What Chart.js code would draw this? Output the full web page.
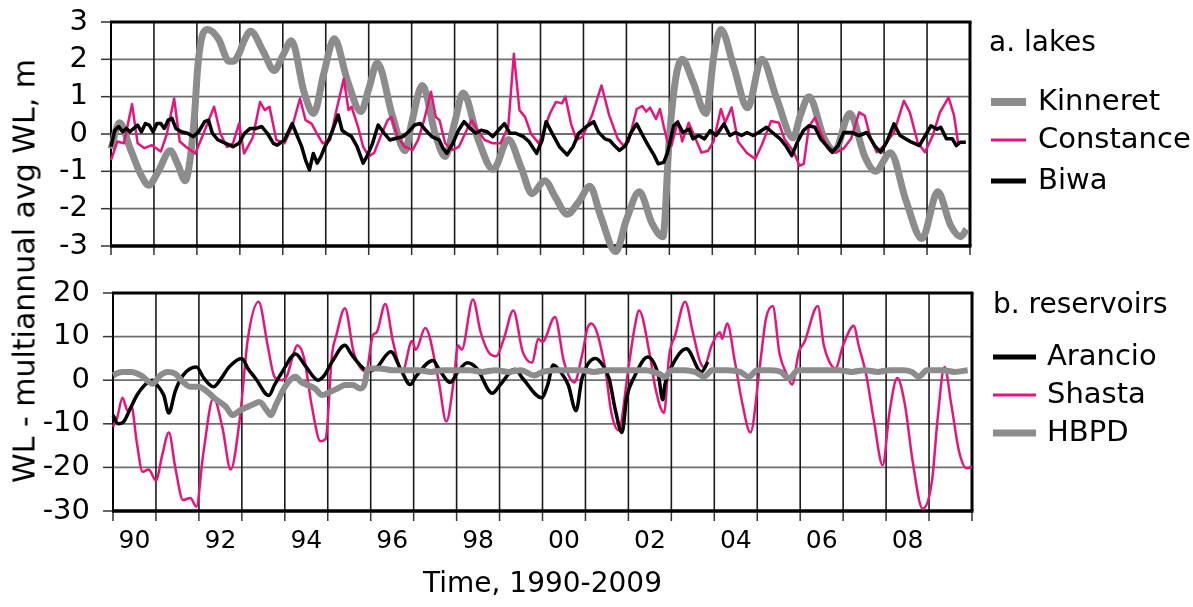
<!DOCTYPE html>
<html>
  <head>
    <title>Water level anomalies: lakes and reservoirs</title>
    <script src="https://cdn.jsdelivr.net/npm/chart.js"></script>
    <style>
      body { margin: 0; background: #fff; }
      #wrap { position: relative; width: 1193px; height: 607px; overflow: hidden; }
      canvas { position: absolute; left: 0; }
      #lakesChart { top: -20px; }
      #resChart { top: 251px; }
      #yTitle {
        position: absolute; left: 24px; top: 271px;
        transform: translate(-50%, -50%) rotate(-90deg);
        white-space: nowrap; font-family: "DejaVu Sans"; font-size: 30px; color: #000;
      }
    </style>
  </head>

  <body>
    <div id="wrap">
      <canvas id="lakesChart" width="1193" height="308"></canvas>
      <canvas id="resChart" width="1193" height="356"></canvas>
      <div id="yTitle">WL - multiannual avg WL, m</div>
    </div>

    <script>
      // ---- data (year, metres from the multiannual mean) ----
      var tickYears = [1990, 1992, 1994, 1996, 1998, 2000, 2002, 2004, 2006, 2008];
      var tickLabels = ["90", "92", "94", "96", "98", "00", "02", "04", "06", "08"];
      var xTitle = "Time, 1990-2009";

      // a. lakes
      var kinneretT = [1990.0, 1990.2, 1990.45, 1990.7, 1990.88, 1991.1, 1991.38, 1991.55, 1991.73, 1991.85, 1991.95, 1992.02, 1992.13, 1992.25, 1992.5, 1992.75, 1992.85, 1992.98, 1993.1, 1993.25, 1993.55, 1993.8, 1994.0, 1994.2, 1994.5, 1994.72, 1994.95, 1995.2, 1995.5, 1995.82, 1996.0, 1996.2, 1996.55, 1996.85, 1997.0, 1997.25, 1997.55, 1997.78, 1998.0, 1998.2, 1998.55, 1998.9, 1999.25, 1999.55, 1999.8, 2000.1, 2000.35, 2000.62, 2000.9, 2001.15, 2001.4, 2001.75, 2002.0, 2002.3, 2002.6, 2002.85, 2003.0, 2003.15, 2003.3, 2003.55, 2003.85, 2004.05, 2004.2, 2004.5, 2004.82, 2005.15, 2005.5, 2005.88, 2006.05, 2006.25, 2006.6, 2006.85, 2007.2, 2007.55, 2007.8, 2008.15, 2008.5, 2008.88, 2009.25, 2009.55, 2009.78, 2009.92];
      var kinneretV = [-0.4, 0.3, -0.4, -1.1, -1.37, -1.0, -0.45, -0.8, -1.25, -0.6, 0.6, 1.8, 2.65, 2.8, 2.55, 1.95, 1.95, 2.15, 2.5, 2.75, 2.2, 1.7, 2.1, 2.5, 1.1, 0.55, 1.6, 2.55, 1.45, 0.6, 1.2, 1.9, 0.5, -0.45, 0.3, 1.3, 0.0, -0.6, 0.3, 1.1, -0.15, -0.95, -0.15, -0.9, -1.6, -1.25, -1.7, -2.15, -1.8, -1.4, -2.2, -3.15, -2.3, -1.55, -2.4, -2.75, -0.1, 1.5, 2.0, 1.4, 0.55, 2.2, 2.8, 1.8, 0.7, 2.0, 0.95, -0.1, 0.5, 1.0, -0.1, -0.45, 0.55, -0.6, -1.0, -0.5, -1.75, -2.8, -1.55, -2.45, -2.75, -2.55];

      var constanceT = [1990.0, 1990.15, 1990.3, 1990.49, 1990.62, 1990.78, 1990.95, 1991.16, 1991.3, 1991.47, 1991.6, 1991.75, 1991.96, 1992.15, 1992.4, 1992.55, 1992.7, 1992.84, 1992.98, 1993.1, 1993.3, 1993.47, 1993.58, 1993.69, 1993.85, 1994.04, 1994.22, 1994.4, 1994.53, 1994.67, 1994.8, 1994.93, 1995.1, 1995.25, 1995.42, 1995.53, 1995.6, 1995.75, 1995.87, 1996.0, 1996.13, 1996.3, 1996.44, 1996.53, 1996.67, 1996.84, 1997.02, 1997.15, 1997.29, 1997.45, 1997.56, 1997.65, 1997.78, 1997.96, 1998.1, 1998.28, 1998.4, 1998.53, 1998.7, 1998.89, 1999.07, 1999.25, 1999.38, 1999.51, 1999.64, 1999.78, 1999.96, 2000.05, 2000.22, 2000.36, 2000.5, 2000.58, 2000.71, 2000.84, 2000.98, 2001.2, 2001.42, 2001.6, 2001.8, 2001.93, 2002.05, 2002.24, 2002.37, 2002.46, 2002.55, 2002.69, 2002.78, 2002.87, 2002.96, 2003.05, 2003.2, 2003.3, 2003.45, 2003.6, 2003.75, 2003.9, 2004.03, 2004.2, 2004.3, 2004.45, 2004.6, 2004.8, 2005.0, 2005.15, 2005.37, 2005.55, 2005.68, 2005.9, 2006.03, 2006.13, 2006.25, 2006.39, 2006.52, 2006.66, 2006.88, 2007.05, 2007.23, 2007.42, 2007.55, 2007.69, 2007.83, 2008.0, 2008.23, 2008.46, 2008.6, 2008.78, 2008.95, 2009.13, 2009.3, 2009.5, 2009.63, 2009.72, 2009.9];
      var constanceV = [-0.7, -0.2, -0.25, 0.8, -0.25, -0.38, -0.3, -0.47, 0.0, 0.95, -0.2, -0.35, -0.52, 0.0, 0.73, 0.0, -0.35, -0.25, 0.28, -0.52, -0.1, 0.86, 0.64, 0.73, -0.16, -0.25, 0.2, 0.95, 0.37, 0.28, 0.0, -0.25, -0.16, 0.64, 1.48, 0.64, 0.73, 0.2, -0.34, -0.6, -0.5, 0.0, 0.37, 0.46, -0.07, -0.34, -0.43, -0.16, 0.37, 1.13, 0.46, 0.37, -0.25, -0.43, -0.34, 0.1, 0.37, 0.1, -0.16, -0.25, -0.25, 0.2, 2.15, 0.64, 0.46, 0.0, -0.25, 0.0, 0.55, 0.86, 0.82, 1.0, 0.28, -0.16, -0.07, 0.5, 1.3, 0.5, -0.13, -0.31, -0.2, 0.67, 0.75, 0.6, 0.71, 0.4, 0.67, 0.2, -0.22, -0.31, 0.35, -0.2, 0.3, -0.1, -0.5, -0.45, -0.2, 0.67, 0.3, 0.71, -0.2, -0.5, -0.67, -0.3, 0.35, 0.3, -0.13, -0.49, -0.85, -0.8, 0.2, 0.44, 0.05, -0.31, -0.49, -0.4, -0.13, 0.58, 0.49, -0.13, -0.49, -0.31, 0.04, 0.89, 0.58, -0.22, -0.49, -0.05, 0.58, 0.98, 0.49, -0.22, -0.22];

      var biwaT = [1990.0, 1990.09, 1990.18, 1990.27, 1990.36, 1990.44, 1990.53, 1990.62, 1990.71, 1990.8, 1990.89, 1990.98, 1991.07, 1991.16, 1991.24, 1991.33, 1991.42, 1991.51, 1991.64, 1991.78, 1991.91, 1992.04, 1992.18, 1992.27, 1992.36, 1992.49, 1992.67, 1992.84, 1992.98, 1993.11, 1993.24, 1993.38, 1993.51, 1993.64, 1993.78, 1993.87, 1994.04, 1994.22, 1994.31, 1994.44, 1994.53, 1994.62, 1994.71, 1994.8, 1994.89, 1994.98, 1995.07, 1995.16, 1995.29, 1995.38, 1995.47, 1995.6, 1995.73, 1995.87, 1995.96, 1996.09, 1996.22, 1996.36, 1996.49, 1996.62, 1996.8, 1996.93, 1997.07, 1997.2, 1997.33, 1997.47, 1997.64, 1997.73, 1997.82, 1997.96, 1998.09, 1998.22, 1998.36, 1998.49, 1998.62, 1998.76, 1998.89, 1999.02, 1999.16, 1999.29, 1999.42, 1999.6, 1999.73, 1999.91, 2000.04, 2000.13, 2000.27, 2000.44, 2000.62, 2000.76, 2000.89, 2001.07, 2001.24, 2001.35, 2001.5, 2001.62, 2001.72, 2001.84, 2001.98, 2002.11, 2002.24, 2002.38, 2002.51, 2002.65, 2002.74, 2002.87, 2002.96, 2003.1, 2003.19, 2003.32, 2003.46, 2003.55, 2003.68, 2003.82, 2003.95, 2004.09, 2004.27, 2004.41, 2004.54, 2004.68, 2004.81, 2004.95, 2005.08, 2005.26, 2005.4, 2005.58, 2005.71, 2005.85, 2005.98, 2006.12, 2006.25, 2006.39, 2006.52, 2006.66, 2006.79, 2006.93, 2007.06, 2007.24, 2007.42, 2007.6, 2007.78, 2007.92, 2008.06, 2008.23, 2008.37, 2008.5, 2008.64, 2008.82, 2008.96, 2009.09, 2009.23, 2009.32, 2009.45, 2009.59, 2009.68, 2009.77, 2009.9];
      var biwaV = [-0.34, 0.1, 0.2, 0.06, 0.15, 0.06, 0.15, 0.24, 0.06, 0.28, 0.24, 0.06, 0.28, 0.28, 0.15, 0.37, 0.42, 0.15, 0.06, 0.02, -0.07, 0.06, 0.33, 0.37, 0.02, -0.16, -0.25, -0.34, -0.25, 0.02, 0.15, 0.15, 0.2, 0.02, -0.25, -0.3, -0.16, 0.28, 0.02, -0.34, -0.7, -0.96, -0.52, -0.78, -0.6, -0.34, -0.16, 0.1, 0.51, 0.1, 0.02, -0.07, -0.34, -0.78, -0.6, -0.25, 0.24, 0.02, -0.16, -0.12, -0.07, 0.06, 0.24, 0.28, 0.1, -0.07, -0.16, -0.38, -0.52, -0.25, 0.1, 0.33, 0.15, 0.02, 0.1, 0.06, -0.07, 0.1, 0.28, 0.02, 0.02, -0.07, -0.2, -0.52, -0.16, 0.33, 0.02, -0.34, -0.56, -0.34, 0.02, 0.2, 0.33, 0.05, -0.13, -0.18, -0.31, -0.44, -0.31, 0.04, 0.27, -0.04, -0.31, -0.58, -0.8, -0.76, -0.49, 0.22, 0.31, 0.04, 0.13, -0.13, -0.04, -0.13, 0.09, -0.04, 0.27, -0.04, 0.04, -0.04, 0.04, -0.04, 0.04, 0.18, 0.04, -0.13, -0.31, -0.58, -0.22, 0.09, 0.22, 0.18, -0.13, -0.31, -0.49, -0.31, 0.04, 0.04, -0.04, 0.04, -0.31, -0.49, -0.22, 0.27, -0.04, -0.13, -0.22, -0.31, -0.04, 0.22, 0.13, 0.18, -0.13, -0.13, -0.31, -0.22, -0.22];

      // b. reservoirs
      var arancioT = [1990.0, 1990.12, 1990.25, 1990.38, 1990.56, 1990.74, 1990.92, 1991.0, 1991.18, 1991.3, 1991.45, 1991.63, 1991.94, 1992.12, 1992.34, 1992.52, 1992.7, 1993.0, 1993.14, 1993.32, 1993.63, 1993.76, 1993.94, 1994.25, 1994.47, 1994.78, 1994.92, 1995.1, 1995.4, 1995.54, 1995.76, 1995.94, 1996.12, 1996.47, 1996.69, 1996.92, 1997.05, 1997.45, 1997.58, 1997.85, 1998.03, 1998.25, 1998.47, 1998.83, 1999.01, 1999.36, 1999.54, 1999.98, 2000.12, 2000.25, 2000.42, 2000.6, 2000.78, 2000.92, 2001.23, 2001.4, 2001.55, 2001.7, 2001.85, 2001.96, 2002.14, 2002.45, 2002.7, 2002.8, 2002.85, 2003.0, 2003.35, 2003.7, 2003.85];
      var arancioV = [-8, -10, -9.5, -7, -3.4, -1.1, 0, -0.8, -3.4, -7.5, -2.5, 1.1, 3, 0.4, -1.5, 0.4, 3, 5, 2.7, 0.4, -3.5, -1.1, 1.9, 6, 3.4, 0, 1.1, 4.2, 8, 6.1, 3.4, 2, 2.7, 6.5, 2.7, -1, 0.8, 4.5, 2.7, -0.5, 1.9, 4, 2.7, -3, -1.1, 2.5, 0.4, -4, -1.1, 3.5, 1.9, -1.1, -7, 0.4, 5, 3.5, 0.4, -7, -12, -4, 0.8, 5.3, 1, -4.5, -1, 3, 7.2, 1.9, 4.2];

      var shastaT = [1990.0, 1990.1, 1990.22, 1990.34, 1990.43, 1990.55, 1990.69, 1990.83, 1991.0, 1991.15, 1991.3, 1991.45, 1991.63, 1991.8, 1991.94, 1992.1, 1992.34, 1992.55, 1992.74, 1992.95, 1993.14, 1993.39, 1993.6, 1993.75, 1993.9, 1994.05, 1994.2, 1994.29, 1994.45, 1994.63, 1994.83, 1994.95, 1995.1, 1995.2, 1995.4, 1995.6, 1995.75, 1995.89, 1996.05, 1996.14, 1996.34, 1996.52, 1996.74, 1996.96, 1997.05, 1997.27, 1997.58, 1997.76, 1997.94, 1998.03, 1998.12, 1998.38, 1998.56, 1998.74, 1998.92, 1999.1, 1999.32, 1999.54, 1999.76, 1999.9, 2000.0, 2000.29, 2000.5, 2000.74, 2000.92, 2001.05, 2001.14, 2001.46, 2001.6, 2001.77, 2002.0, 2002.14, 2002.25, 2002.5, 2002.63, 2002.83, 2002.95, 2003.09, 2003.32, 2003.5, 2003.67, 2003.76, 2003.94, 2004.13, 2004.18, 2004.3, 2004.48, 2004.66, 2004.84, 2005.07, 2005.2, 2005.36, 2005.52, 2005.7, 2005.81, 2005.97, 2006.1, 2006.41, 2006.55, 2006.68, 2006.82, 2007.0, 2007.25, 2007.36, 2007.54, 2007.72, 2007.92, 2008.08, 2008.26, 2008.44, 2008.62, 2008.85, 2009.07, 2009.2, 2009.36, 2009.52, 2009.7, 2009.88, 2010.0];
      var shastaV = [-10.7, -8.5, -4, -7, -6, -14, -21, -20.5, -23, -17, -12, -20, -27.5, -27, -29, -17, -4, -11, -20.5, -9, 9.5, 18, 8, 1, 0, 1, 6, 8, 5, -6, -14, -13.5, 6, 10.3, 16.5, 6.5, 3, 2, 10.3, 11, 17.5, 8.8, 2, 9, 7, 12, 0, -9.5, 0.4, 8, 7, 18.5, 11, 6.5, 5.5, 9.5, 16, 6.5, 4, 9.5, 8.8, 14.5, 4.2, -0.5, 5.7, 12, 13, 2.7, -7.3, -11.5, 2.7, 11.8, 16, 5.7, -1.9, -7.5, 5.7, 10.3, 18, 11, 4.2, 3, 8, 11, 9.5, 13, 4.2, -5.7, -12, 4, 14, 17, 6, 1.1, -1, 6.5, 8.8, 17, 8, 4.2, 2.7, 8, 12.5, 8, 1.1, -9.5, -19.5, -7.3, 0.5, -5.7, -18.7, -29.5, -23, -8.8, 3, -5.7, -16.4, -20.2, -19.8];

      var hbpdT = [1990.0, 1990.2, 1990.43, 1990.65, 1990.92, 1991.1, 1991.27, 1991.45, 1991.63, 1991.8, 1992.0, 1992.2, 1992.37, 1992.63, 1992.78, 1992.96, 1993.23, 1993.41, 1993.58, 1993.67, 1993.8, 1993.98, 1994.12, 1994.25, 1994.38, 1994.52, 1994.7, 1994.87, 1995.05, 1995.23, 1995.4, 1995.58, 1995.76, 1995.85, 1995.94, 1996.2, 1996.5, 1996.8, 1997.1, 1997.4, 1997.7, 1998.0, 1998.3, 1998.6, 1998.9, 1999.2, 1999.5, 1999.8, 2000.0, 2000.3, 2000.6, 2000.9, 2001.2, 2001.5, 2001.8, 2002.1, 2002.4, 2002.7, 2002.86, 2003.0, 2003.3, 2003.55, 2003.76, 2003.95, 2004.3, 2004.6, 2004.8, 2005.0, 2005.3, 2005.55, 2005.74, 2005.95, 2006.3, 2006.6, 2006.9, 2007.2, 2007.5, 2007.8, 2008.1, 2008.4, 2008.6, 2008.76, 2008.95, 2009.3, 2009.6, 2009.9];
      var hbpdV = [1.1, 1.9, 1.9, 1.1, -0.8, 1.1, 1.9, 1.5, -0.4, -1.5, -1.5, -2.7, -4.2, -6.1, -8, -6.9, -5.7, -5, -6.9, -8, -5.5, -1.9, 0, 0.8, -0.4, -1.1, -1.9, -3.4, -2.7, -1.9, -1.1, -1.1, -1.9, -1.1, 2.7, 2.7, 2.3, 2.3, 2.3, 1.9, 2.3, 2.3, 2.3, 1.9, 2.3, 1.9, 2.3, 1.1, 1.9, 2.3, 2.3, 2.3, 1.9, 2.3, 2.3, 2.3, 2.3, 1.5, 0.8, 2.3, 2.3, 1.9, 0.8, 2.3, 2.3, 1.9, 0.8, 2.3, 2.3, 1.9, 0.4, 2.3, 2.3, 2.3, 2.3, 1.9, 2.3, 1.9, 2.3, 2.3, 1.9, 0.8, 2.3, 2.3, 1.9, 2.3];

      var GREY = "#8c8c8c";
      var PINK = "#e6157d";
      var BLACK = "#000000";

      Chart.defaults.font.family = '"DejaVu Sans", Verdana, sans-serif';
      Chart.defaults.color = "#000";

      function pts(t, v) {
        return t.map(function (x, i) { return { x: x, y: v[i] }; });
      }

      // year grid, value grid, tick stubs and the heavy frame, all placed from the chart's scales
      var panelGrid = {
        id: "panelGrid",
        beforeDatasetsDraw: function (chart, args, o) {
          var ctx = chart.ctx;
          var a = chart.chartArea;
          var xs = chart.scales.x;
          var ys = chart.scales.y;
          function seg(x1, y1, x2, y2, color, w) {
            ctx.strokeStyle = color;
            ctx.lineWidth = w;
            ctx.beginPath();
            ctx.moveTo(x1, y1);
            ctx.lineTo(x2, y2);
            ctx.stroke();
          }
          ctx.save();
          ys.ticks.forEach(function (t) {
            var y = ys.getPixelForValue(t.value);
            seg(a.left, y, a.right, y, "#6e6e6e", 1.8);
            seg(a.left - 10, y, a.left, y, "#333", 1.5);
          });
          xs.ticks.forEach(function (t) {
            var x = xs.getPixelForValue(t.value);
            seg(x, a.top, x, a.bottom, "#1a1a1a", 1.6);
            seg(x, a.bottom, x, a.bottom + o.tickLen, "#333", 1.5);
          });
          seg(a.left - 1, a.top, a.right + 1.5, a.top, "#000", 3);
          seg(a.right, a.top, a.right, a.bottom, "#000", 3);
          seg(a.left, a.top, a.left, a.bottom, "#000", 2);
          seg(a.left - 1, a.bottom, a.right + 1.5, a.bottom, "#000", 3.5);
          ctx.restore();
        },
      };

      // legend at the right of each panel: title, then a line sample and name per dataset
      var panelLegend = {
        id: "panelLegend",
        afterDraw: function (chart, args, o) {
          var ctx = chart.ctx;
          ctx.save();
          ctx.fillStyle = "#000";
          ctx.textAlign = "left";
          ctx.textBaseline = "middle";
          ctx.font = '28px "DejaVu Sans"';
          ctx.fillText(o.title, o.titleX, o.titleY);
          ctx.font = '29px "DejaVu Sans"';
          chart.data.datasets.forEach(function (ds, i) {
            var y = o.rows[i];
            ctx.strokeStyle = ds.borderColor;
            ctx.lineWidth = o.widths[i];
            ctx.beginPath();
            ctx.moveTo(o.lineX0, y);
            ctx.lineTo(o.lineX1, y);
            ctx.stroke();
            ctx.fillText(ds.label, o.textX, y);
          });
          ctx.restore();
        },
      };

      function xScale(showLabels, height) {
        return {
          type: "linear",
          min: 1990,
          max: 2010,
          ticks: {
            display: showLabels,
            stepSize: 1,
            autoSkip: false,
            maxRotation: 0,
            labelOffset: 21.5,
            padding: 15,
            font: { size: 25 },
            callback: function (v) {
              var i = tickYears.indexOf(v);
              return i >= 0 ? tickLabels[i] : "";
            },
          },
          grid: { display: false, drawTicks: false },
          border: { display: false },
          afterFit: function (s) { s.height = height; },
        };
      }

      function yScale(min, max, step, width) {
        return {
          min: min,
          max: max,
          ticks: { stepSize: step, autoSkip: false, padding: 23, font: { size: 29 } },
          grid: { display: false, drawTicks: false },
          border: { display: false },
          afterFit: function (s) { s.width = width; },
        };
      }

      var lakes = new Chart(document.getElementById("lakesChart"), {
        type: "line",
        data: {
          datasets: [
            { label: "Kinneret", data: pts(kinneretT, kinneretV), borderColor: GREY, borderWidth: 7, cubicInterpolationMode: "monotone", order: 2 },
            { label: "Constance", data: pts(constanceT, constanceV), borderColor: PINK, borderWidth: 2.5, order: 1 },
            { label: "Biwa", data: pts(biwaT, biwaV), borderColor: BLACK, borderWidth: 3.5, order: 0 },
          ],
        },
        options: {
          responsive: false,
          animation: false,
          events: [],
          clip: false,
          elements: { point: { radius: 0 }, line: { borderJoinStyle: "round" } },
          layout: { padding: { top: 42, right: 223, bottom: 42, left: 0 } },
          scales: { x: xScale(false, 0), y: yScale(-3, 3, 1, 111) },
          plugins: {
            legend: { display: false },
            tooltip: { enabled: false },
            panelGrid: { tickLen: 9 },
            panelLegend: {
              title: "a. lakes", titleX: 989, titleY: 64,
              rows: [122, 160, 201], widths: [8, 3, 5],
              lineX0: 991, lineX1: 1026, textX: 1038,
            },
          },
        },
        plugins: [panelGrid, panelLegend],
      });

      var reservoirs = new Chart(document.getElementById("resChart"), {
        type: "line",
        data: {
          datasets: [
            { label: "Arancio", data: pts(arancioT, arancioV), borderColor: BLACK, borderWidth: 3.5, cubicInterpolationMode: "monotone", order: 1 },
            { label: "Shasta", data: pts(shastaT, shastaV), borderColor: PINK, borderWidth: 2.5, cubicInterpolationMode: "monotone", order: 2 },
            { label: "HBPD", data: pts(hbpdT, hbpdV), borderColor: GREY, borderWidth: 6, cubicInterpolationMode: "monotone", order: 0 },
          ],
        },
        options: {
          responsive: false,
          animation: false,
          events: [],
          clip: false,
          elements: { point: { radius: 0 }, line: { borderJoinStyle: "round" } },
          layout: { padding: { top: 42, right: 221, bottom: 0, left: 0 } },
          scales: {
            x: Object.assign(xScale(true, 96), {
              title: { display: true, text: xTitle, font: { size: 28 }, padding: { top: 0, bottom: 5 } },
            }),
            y: yScale(-30, 20, 10, 113),
          },
          plugins: {
            legend: { display: false },
            tooltip: { enabled: false },
            panelGrid: { tickLen: 10 },
            panelLegend: {
              title: "b. reservoirs", titleX: 993, titleY: 55,
              rows: [106, 144, 182], widths: [5, 3, 7],
              lineX0: 993, lineX1: 1036, textX: 1047,
            },
          },
        },
        plugins: [panelGrid, panelLegend],
      });
    </script>
  </body>
</html>
